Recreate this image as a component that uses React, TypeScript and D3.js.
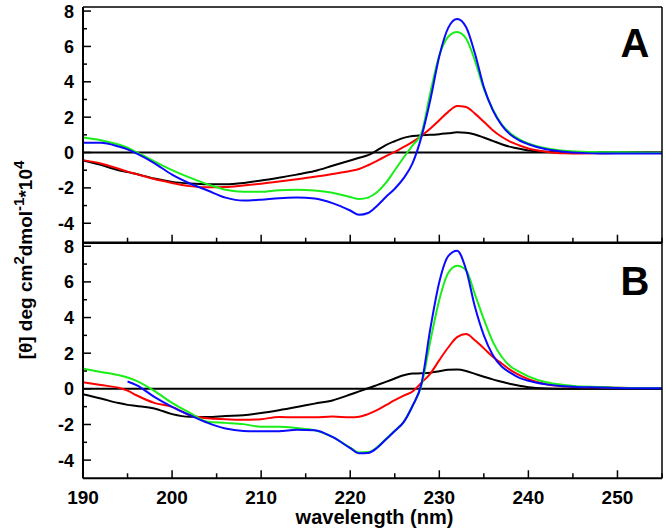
import * as d3 from "d3";

// wavelength grid (nm) shared by all traces
const wavelength = [
  190, 192, 194, 195, 196, 198, 200, 202, 204, 206, 208, 210, 212, 214, 216, 218,
  220, 221, 222, 223, 224, 225, 226, 227, 228, 229, 230, 231, 232, 233, 234, 235,
  236, 237, 238, 239, 240, 242, 244, 246, 248, 250, 252, 255,
];

// panel A
const aBlack = [
  -0.45, -0.7, -1.0, -1.1, -1.22, -1.47, -1.66, -1.75, -1.79, -1.79, -1.72, -1.58, -1.42, -1.25, -1.05, -0.75,
  -0.45, -0.3, -0.15, 0.12, 0.42, 0.64, 0.83, 0.93, 0.98, 1.0, 1.04, 1.09, 1.14, 1.12, 1.02, 0.85,
  0.66, 0.47, 0.32, 0.21, 0.12, 0.04, 0.01, 0, 0, 0, 0, 0,
];
const aRed = [
  -0.43, -0.62, -0.92, -1.08, -1.22, -1.5, -1.72, -1.9, -1.97, -1.95, -1.86, -1.76, -1.64, -1.51, -1.37, -1.21,
  -1.04, -0.93, -0.72, -0.47, -0.21, 0.04, 0.32, 0.6, 0.95, 1.36, 1.83, 2.3, 2.63, 2.58, 2.2, 1.74,
  1.26, 0.89, 0.6, 0.4, 0.23, 0.05, -0.04, -0.05, -0.04, -0.03, -0.02, -0.02,
];
const aGreen = [
  0.85, 0.7, 0.45, 0.27, 0.02, -0.5, -1.0, -1.42, -1.8, -2.1, -2.22, -2.22, -2.13, -2.1, -2.15, -2.28,
  -2.52, -2.63, -2.55, -2.25, -1.72, -1.0, -0.28, 0.4, 1.1, 3.4, 5.5, 6.55, 6.82, 6.45, 5.2, 3.6,
  2.45, 1.6, 1.08, 0.75, 0.52, 0.24, 0.1, 0.04, 0.02, 0.01, 0, -0.01,
];
const aBlue = [
  0.55, 0.55, 0.34, 0.18, -0.05, -0.6, -1.25, -1.75, -2.15, -2.55, -2.72, -2.67, -2.58, -2.55, -2.6, -2.86,
  -3.28, -3.52, -3.42, -3.02, -2.52, -2.05, -1.45, -0.6, 0.9, 3.0, 5.45, 7.05, 7.55, 7.1, 5.6, 3.7,
  2.4, 1.55, 1.0, 0.68, 0.47, 0.18, 0.05, -0.02, -0.05, -0.06, -0.06, -0.06,
];

// panel B
const bBlack = [
  -0.3, -0.54, -0.8, -0.9, -0.96, -1.1, -1.42, -1.57, -1.58, -1.52, -1.48, -1.36, -1.2, -1.02, -0.83, -0.65,
  -0.32, -0.14, 0.03, 0.21, 0.39, 0.58, 0.76, 0.86, 0.87, 0.9, 0.99, 1.07, 1.08, 1.0, 0.84, 0.68,
  0.53, 0.4, 0.27, 0.17, 0.09, 0.02, 0, 0, 0, 0, 0, 0,
];
const bRed = [
  0.37, 0.21, 0.06, -0.1, -0.36, -0.79, -1.01, -1.48, -1.65, -1.7, -1.74, -1.7, -1.58, -1.6, -1.6, -1.55,
  -1.6, -1.57, -1.42, -1.2, -0.92, -0.64, -0.38, -0.15, 0.35, 0.86, 1.61, 2.32, 2.9, 3.07, 2.73, 2.27,
  1.8, 1.42, 1.05, 0.77, 0.54, 0.26, 0.15, 0.09, 0.09, 0.06, 0.05, 0.04,
];
const bGreen = [
  1.14, 0.95, 0.77, 0.64, 0.45, -0.11, -0.79, -1.35, -1.85, -1.91, -1.98, -2.13, -2.13, -2.2, -2.32, -2.7,
  -3.3, -3.57, -3.55, -3.28, -2.82, -2.35, -1.85, -0.95, 0.2, 2.7, 5.0, 6.5, 6.9, 6.65, 5.3, 3.9,
  2.65, 1.8, 1.25, 0.95, 0.7, 0.37, 0.22, 0.13, 0.11, 0.06, 0.05, 0.04,
];
const bBlue: (number | null)[] = [
  null, null, null, 0.41, 0.21, -0.45, -1.01, -1.48, -1.91, -2.23, -2.36, -2.38, -2.38, -2.29, -2.32, -2.7,
  -3.33, -3.62, -3.6, -3.32, -2.84, -2.37, -1.87, -0.95, 0.3, 3.4, 6.0, 7.45, 7.75, 6.7, 4.6, 3.0,
  1.9, 1.25, 0.9, 0.62, 0.45, 0.25, 0.14, 0.09, 0.08, 0.04, 0.03, 0.03,
];

const yMajor = [-4, -2, 0, 2, 4, 6, 8];
const yMinor = [-3, -1, 1, 3, 5, 7];
const xMajor = [190, 200, 210, 220, 230, 240, 250];
const xMinor = [195, 205, 215, 225, 235, 245, 255];

const COLORS = { black: "#000000", red: "#ff0000", green: "#19ee19", blue: "#0a0aff" };
const FONT = "'Liberation Sans', Arial, Helvetica, sans-serif";

const W = 666;
const H = 531;
const left = 83;
const right = 662;
const top = 7;
const mid = 242.7;
const bottom = 478.3;

const x = d3.scaleLinear().domain([190, 255]).range([left, right]);

function Panel({
  y,
  series,
  y1,
  label,
  labelY,
}: {
  y: d3.ScaleLinear<number, number>;
  series: { values: (number | null)[]; color: string }[];
  y1: number;
  label: string;
  labelY: number;
}) {
  const line = d3
    .line<number | null>()
    .defined((d) => d !== null)
    .x((_, i) => x(wavelength[i]))
    .y((d) => y(d as number))
    .curve(d3.curveMonotoneX);

  return (
    <g>
      <line x1={left} x2={right} y1={y(0)} y2={y(0)} stroke="#000" strokeWidth={2} />
      {series.map((s, i) => (
        <path key={i} d={line(s.values) || ""} fill="none" stroke={s.color} strokeWidth={2} />
      ))}
      {yMajor.map((t) => (
        <g key={"ym" + t}>
          <line x1={left} x2={left + 8} y1={y(t)} y2={y(t)} stroke="#000" strokeWidth={1.5} />
          <text
            x={74}
            y={y(t)}
            dy="0.36em"
            textAnchor="end"
            fontFamily={FONT}
            fontWeight="bold"
            fontSize={18}
          >
            {t}
          </text>
        </g>
      ))}
      {yMinor.map((t) => (
        <line key={"yn" + t} x1={left} x2={left + 4} y1={y(t)} y2={y(t)} stroke="#000" strokeWidth={1.5} />
      ))}
      {xMajor.map((t) => (
        <line key={"xm" + t} x1={x(t)} x2={x(t)} y1={y1} y2={y1 - 8} stroke="#000" strokeWidth={1.5} />
      ))}
      {xMinor.map((t) => (
        <line key={"xn" + t} x1={x(t)} x2={x(t)} y1={y1} y2={y1 - 5} stroke="#000" strokeWidth={1.5} />
      ))}
      <text
        x={635}
        y={labelY}
        textAnchor="middle"
        fontFamily={FONT}
        fontWeight="bold"
        fontSize={40}
      >
        {label}
      </text>
    </g>
  );
}

export default function App() {
  const yA = d3.scaleLinear().domain([-5.1, 8.23]).range([mid, top]);
  const yB = d3.scaleLinear().domain([-5.02, 8.2]).range([bottom, mid]);

  return (
    <svg
      width={W}
      height={H}
      style={{ position: "absolute", left: 0, top: 0, background: "#fff" }}
    >
      <Panel
        y={yA}
        y1={mid}
        label="A"
        labelY={57}
        series={[
          { values: aBlack, color: COLORS.black },
          { values: aRed, color: COLORS.red },
          { values: aGreen, color: COLORS.green },
          { values: aBlue, color: COLORS.blue },
        ]}
      />
      <Panel
        y={yB}
        y1={bottom}
        label="B"
        labelY={295}
        series={[
          { values: bBlack, color: COLORS.black },
          { values: bRed, color: COLORS.red },
          { values: bGreen, color: COLORS.green },
          { values: bBlue, color: COLORS.blue },
        ]}
      />
      {/* frame */}
      <line x1={left} x2={right} y1={top} y2={top} stroke="#000" strokeWidth={1.5} />
      <line x1={right} x2={right} y1={top} y2={bottom} stroke="#000" strokeWidth={1.5} />
      <line x1={left} x2={left} y1={top} y2={bottom} stroke="#000" strokeWidth={2} />
      <line x1={left} x2={right} y1={mid} y2={mid} stroke="#000" strokeWidth={2.5} />
      <line x1={left} x2={right} y1={bottom} y2={bottom} stroke="#000" strokeWidth={2} />

      {xMajor.map((t) => (
        <text
          key={t}
          x={x(t)}
          y={504}
          textAnchor="middle"
          fontFamily={FONT}
          fontWeight="bold"
          fontSize={19}
        >
          {t}
        </text>
      ))}
      <text
        x={(left + right) / 2 + 2}
        y={524}
        textAnchor="middle"
        fontFamily={FONT}
        fontWeight="bold"
        fontSize={20}
      >
        wavelength (nm)
      </text>
      <text
        transform="translate(32,260) rotate(-90)"
        textAnchor="middle"
        fontFamily={FONT}
        fontWeight="bold"
        fontSize={19}
      >
        [θ] deg cm
        <tspan dy={-8} fontSize={15}>2</tspan>
        <tspan dy={8}>dmol</tspan>
        <tspan dy={-8} fontSize={15}>-1</tspan>
        <tspan dy={8}>*10</tspan>
        <tspan dy={-8} fontSize={15}>4</tspan>
      </text>
    </svg>
  );
}
